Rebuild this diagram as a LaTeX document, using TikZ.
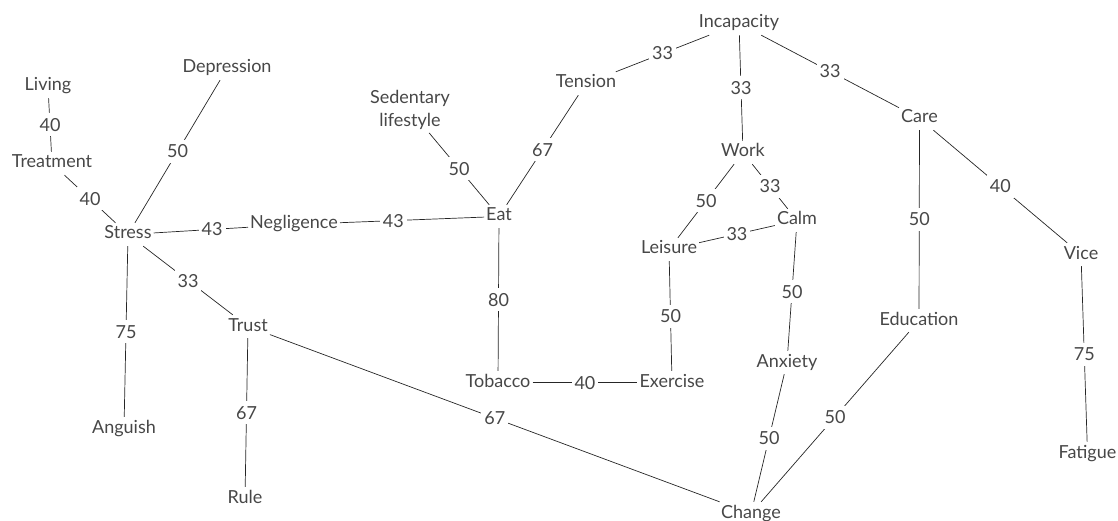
\documentclass[tikz,border=0pt]{standalone}
\usepackage{fontspec}
\setmainfont{Lato}
\usepackage{tikz}
\tikzstyle{term} = [text=black!72, font=\fontsize{18}{23}\selectfont, text height=13pt, text depth=4pt, inner xsep=2pt, inner ysep=3pt]
\tikzstyle{weight} = [term, fill=white, text depth=0pt, inner xsep=3pt, inner ysep=5pt]
\tikzstyle{line} = [draw, black!85, line width=0.7pt]

\begin{document}
\begin{tikzpicture}[x=1pt, y=-1pt]
    \useasboundingbox (0,0) rectangle (1118,521);
    % Place nodes
    \node [term] (incapacity) at (739,23.5) {Incapacity};
    \node [term] (tension) at (586,83.5) {Tension};
    \node [term] (work) at (743,152.5) {Work};
    \node [term] (care) at (919.5,118.5) {Care};
    \node [term] (depression) at (227,68.5) {Depression};
    \node [term] (living) at (48,86.5) {Living};
    \node [term] (treatment) at (52,163.5) {Treatment};
    \node [term, align=center, text height=, text depth=] (sedentary) at (410,110) {Sedentary\\lifestyle};
    \node [term] (eat) at (499,216.5) {Eat};
    \node [term] (stress) at (128,234.5) {Stress};
    \node [term] (negligence) at (294,224.5) {Negligence};
    \node [term] (leisure) at (669,249.5) {Leisure};
    \node [term] (calm) at (797,220.5) {Calm};
    \node [term] (trust) at (248,326.5) {Trust};
    \node [term] (tobacco) at (498,382.5) {Tobacco};
    \node [term] (exercise) at (672,382.5) {Exercise};
    \node [term] (anxiety) at (787,362.5) {Anxiety};
    \node [term] (education) at (919,320.5) {Education};
    \node [term] (vice) at (1081,254.5) {Vice};
    \node [term] (fatigue) at (1087.5,453.5) {Fatigue};
    \node [term] (anguish) at (124,428.5) {Anguish};
    \node [term] (rule) at (245,498.5) {Rule};
    \node [term] (change) at (751,513.5) {Change};

    % Draw edges
    \path [line] (incapacity) -- node [weight] {33} (tension);
    \path [line] (incapacity) -- node [weight] {33} (work);
    \path [line] (incapacity) -- node [weight] {33} (care);
    \path [line] (tension) -- node [weight] {67} (eat);
    \path [line] (care) -- node [weight] {50} (education);
    \path [line] (care) -- node [weight] {40} (vice);
    \path [line] (vice) -- node [weight] {75} (fatigue);
    \path [line] (depression) -- node [weight] {50} (stress);
    \path [line] (living) -- node [weight] {40} (treatment);
    \path [line] (treatment) -- node [weight] {40} (stress);
    \path [line] (sedentary) -- node [weight] {50} (eat);
    \path [line] (stress) -- node [weight, pos=0.62] {43} (negligence);
    \path [line] (negligence) -- node [weight, pos=0.37] {43} (eat);
    \path [line] (eat) -- node [weight] {80} (tobacco);
    \path [line] (work) -- node [weight] {50} (leisure);
    \path [line] (work) -- node [weight] {33} (calm);
    \path [line] (leisure) -- node [weight] {33} (calm);
    \path [line] (leisure) -- node [weight] {50} (exercise);
    \path [line] (calm) -- node [weight] {50} (anxiety);
    \path [line] (tobacco) -- node [weight] {40} (exercise);
    \path [line] (stress) -- node [weight] {33} (trust);
    \path [line] (stress) -- node [weight] {75} (anguish);
    \path [line] (trust) -- node [weight] {67} (rule);
    \path [line] (trust) -- node [weight] {67} (change);
    \path [line] (anxiety) -- node [weight] {50} (change);
    \path [line] (education) -- node [weight] {50} (change);
\end{tikzpicture}
\end{document}
